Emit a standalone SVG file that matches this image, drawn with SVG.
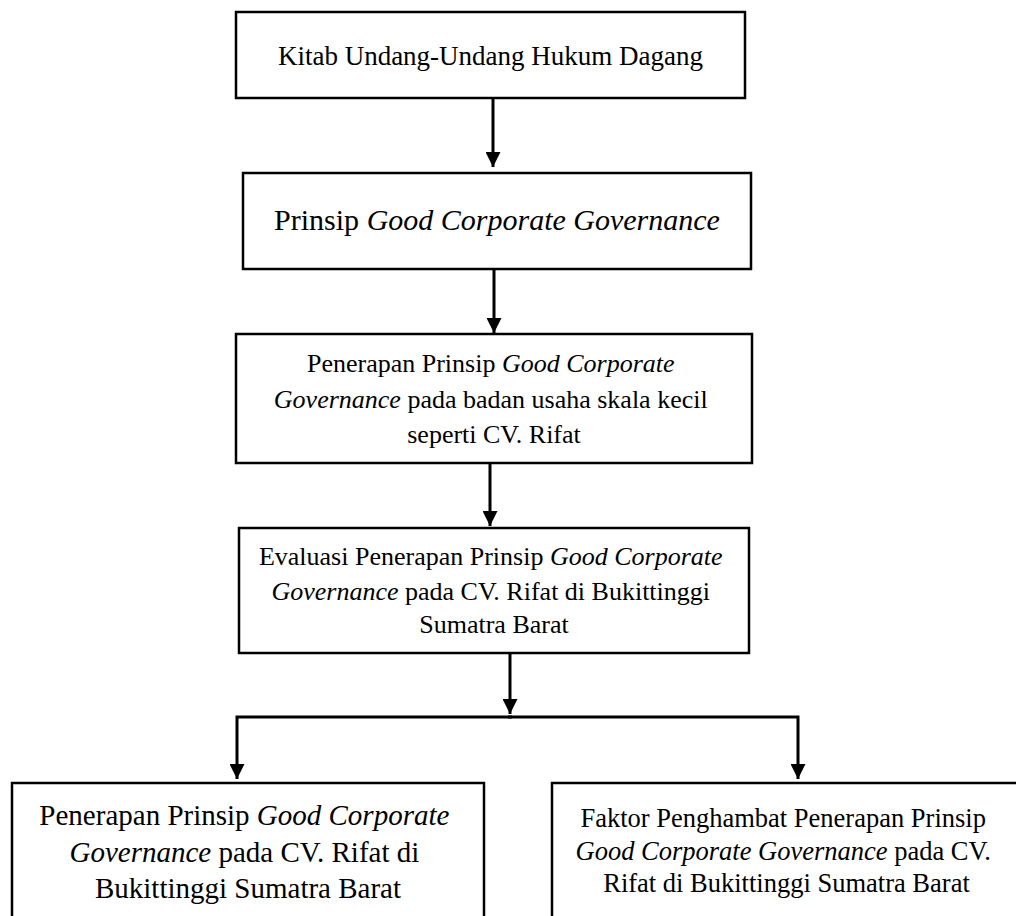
<svg xmlns="http://www.w3.org/2000/svg" width="1016" height="916" viewBox="0 0 1016 916">
<style>
.box{fill:#fff;stroke:#000;stroke-width:2.5}
.t{font-family:"Liberation Serif","Times New Roman",serif;fill:#000;text-anchor:middle}
.i{font-style:italic}
.c{fill:none;stroke:#000;stroke-width:3}
</style>
<defs>
<marker id="ah" markerUnits="userSpaceOnUse" markerWidth="15" markerHeight="15" refX="15" refY="7.5" orient="auto">
<path d="M0,0 L15,7.5 L0,15 z" fill="#000"/>
</marker>
</defs>
<rect width="1016" height="916" fill="#fff"/>
<g id="connectors">
<path class="c" d="M493,98 V167" marker-end="url(#ah)"/>
<path class="c" d="M494,269 V333" marker-end="url(#ah)"/>
<path class="c" d="M490,463 V526" marker-end="url(#ah)"/>
<path class="c" d="M510,653 V714" marker-end="url(#ah)"/>
<path class="c" d="M512,717 H237 V779" marker-end="url(#ah)"/>
<path class="c" d="M508,717 H798 V779" marker-end="url(#ah)"/>
</g>
<g id="n1">
<rect class="box" x="236" y="12" width="509" height="86"/>
<text class="t" x="490.5" y="65" font-size="27">Kitab Undang-Undang Hukum Dagang</text>
</g>
<g id="n2">
<rect class="box" x="243" y="173" width="508" height="96"/>
<text class="t" x="497" y="230" font-size="30">Prinsip <tspan class="i">Good Corporate Governance</tspan></text>
</g>
<g id="n3">
<rect class="box" x="236" y="334" width="516" height="129"/>
<text class="t" font-size="26">
<tspan x="494" y="372">Penerapan Prinsip <tspan class="i">Good Corporate</tspan></tspan>
<tspan x="494" y="408"><tspan class="i">Governance</tspan> pada badan usaha skala kecil</tspan>
<tspan x="494" y="443">seperti CV. Rifat</tspan>
</text>
</g>
<g id="n4">
<rect class="box" x="239" y="528" width="510" height="125"/>
<text class="t" font-size="26">
<tspan x="494" y="565">Evaluasi Penerapan Prinsip <tspan class="i">Good Corporate</tspan></tspan>
<tspan x="494" y="600"><tspan class="i">Governance</tspan> pada CV. Rifat di Bukittinggi</tspan>
<tspan x="494" y="633">Sumatra Barat</tspan>
</text>
</g>
<g id="n5">
<rect class="box" x="12" y="783" width="472" height="150"/>
<text class="t" font-size="29">
<tspan x="248" y="825">Penerapan Prinsip <tspan class="i">Good Corporate</tspan></tspan>
<tspan x="248" y="862"><tspan class="i">Governance</tspan> pada CV. Rifat di</tspan>
<tspan x="248" y="898">Bukittinggi Sumatra Barat</tspan>
</text>
</g>
<g id="n6">
<rect class="box" x="552" y="783" width="480" height="150"/>
<text class="t" font-size="26.5">
<tspan x="786.5" y="827">Faktor Penghambat Penerapan Prinsip</tspan>
<tspan x="786.5" y="860"><tspan class="i">Good Corporate Governance</tspan> pada CV.</tspan>
<tspan x="786.5" y="892">Rifat di Bukittinggi Sumatra Barat</tspan>
</text>
</g>
</svg>
